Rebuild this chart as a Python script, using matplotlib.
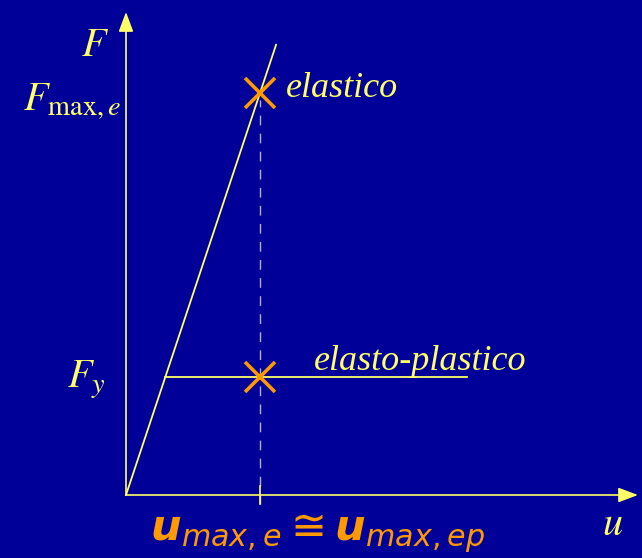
import numpy as np
import matplotlib.pyplot as plt
from matplotlib.patches import FancyArrowPatch

plt.rcParams['mathtext.fontset'] = 'custom'
plt.rcParams['mathtext.it'] = 'DejaVu Sans:italic'
plt.rcParams['mathtext.rm'] = 'DejaVu Sans'
plt.rcParams['mathtext.bf'] = 'DejaVu Sans:bold:italic'

bg = '#000099'
yel = '#ffff66'
ora = '#ff9900'

# data (u scaled so that u_max = 1)
u_max = 1.0
F_max_e = 3.0
F_y = 0.88
u_y = 0.293
u_plast_end = 2.545
u_el_end = 1.12
F_el_end = 3.36

el_u = [0, u_el_end]
el_F = [0, F_el_end]
ep_u = [u_y, u_plast_end]
ep_F = [F_y, F_y]
pts_u = [u_max, u_max]
pts_F = [F_max_e, F_y]

fig = plt.figure(figsize=(6.42, 5.58), dpi=100)
fig.patch.set_facecolor(bg)
ax = fig.add_axes([0, 0, 1, 1])
ax.set_facecolor(bg)
ax.set_xlim(-126/134, (642-126)/134)
ax.set_ylim(-(558-495)/134, 495/134)
ax.axis('off')

# axes with arrows
for start, end in [((0, 0), (0, 483/134)), ((0, 0), (512/134, 0))]:
    ar = FancyArrowPatch(start, end, arrowstyle='-|>,head_length=8,head_width=3',
                         color=yel, lw=1.2, mutation_scale=1.5, shrinkA=0, shrinkB=0)
    ax.add_patch(ar)

# dashed line and tick
ax.plot([u_max, u_max], [-0.07, F_max_e - 0.05], color='#b0b0c8', lw=1, dashes=(7, 6))
ax.plot([u_max, u_max], [-0.07, 0.07], color=yel, lw=1.2)

ax.plot(el_u, el_F, color=yel, lw=1.3)
ax.plot(ep_u, ep_F, color=yel, lw=1.3)
ax.plot(pts_u, pts_F, linestyle='none', marker='x', color=ora, markersize=21, mew=2.6)

serif = dict(color=yel, fontsize=29, math_fontfamily='stix')
ax.text(-0.231, 3.36, r'$F$', ha='center', va='center', **serif)
ax.text(-0.04, 2.93, r'$F_{\mathrm{max,}e}$', ha='right', va='center', **serif)
ax.text(-0.15, 0.86, r'$F_y$', ha='right', va='center', **serif)
ax.text(3.63, -0.22, r'$u$', ha='center', va='center', **serif)

ax.text(1.19, 3.03, 'elastico', ha='left', va='center', color=yel,
        family='Liberation Serif', style='italic', fontsize=26)
ax.text(1.40, 1.00, 'elasto-plastico', ha='left', va='center', color=yel,
        family='Liberation Serif', style='italic', fontsize=26)

ax.text(0.18, -0.29, r'$\mathbf{u}_{max,e}\cong\mathbf{u}_{max,ep}$', ha='left', va='center',
        color=ora, fontsize=31)

fig.savefig('out.png', dpi=100, facecolor=bg)
